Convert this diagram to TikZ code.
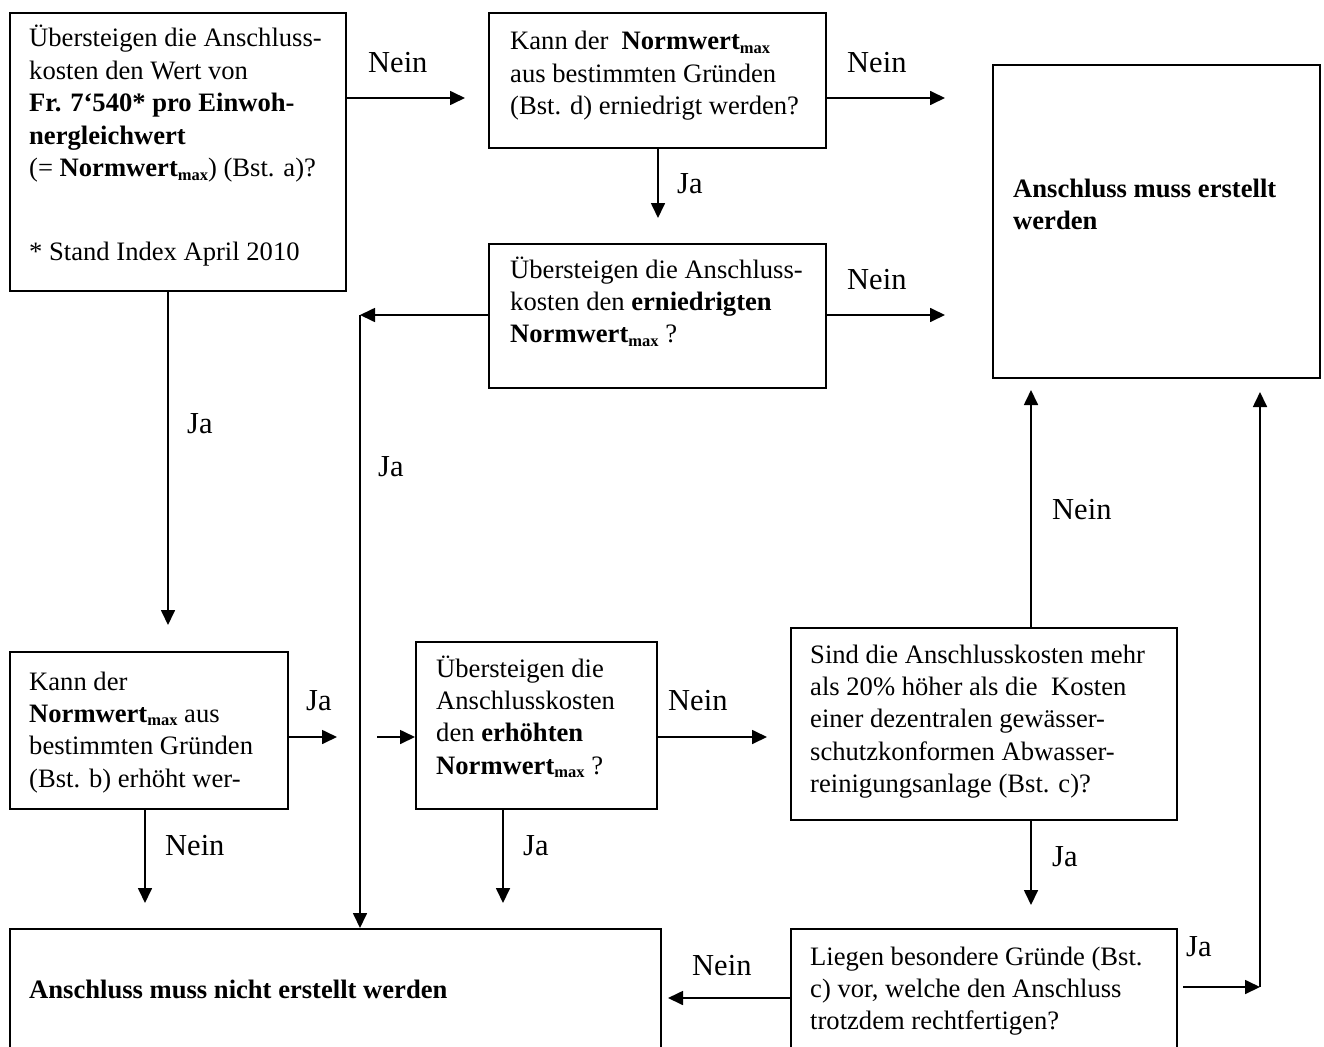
\documentclass[tikz,border=0pt]{standalone}
\usepackage{fontspec}
\setmainfont{Liberation Serif}
\usetikzlibrary{arrows.meta}
\newcommand{\nwmax}{\textbf{Normwert}\raisebox{-3.5pt}{\fontsize{16.5}{17}\selectfont\bfseries max}}
\newcommand{\mlines}[1]{\vtop{\halign{##\hfil\cr#1\crcr}}}
\begin{document}
\begin{tikzpicture}[x=1pt,y=-1pt,
  font=\fontsize{26.6}{32.4}\selectfont,
  box/.style={draw, line width=1.9pt, inner sep=0pt, anchor=north west},
  txt/.style={inner sep=0pt, anchor=base west},
  lbl/.style={inner sep=0pt, anchor=base west, font=\fontsize{30.5}{34}\selectfont},
  arr/.style={line width=1.7pt, -{Triangle[length=15pt,width=14pt]}}]
\useasboundingbox (0,0) rectangle (1324,1046);
\clip (0,0) rectangle (1324,1046);
% boxes
\node[box, minimum width=336pt, minimum height=278pt] (A) at (9,12) {};
\node[box, minimum width=337pt, minimum height=135pt] (B) at (488,12) {};
\node[box, minimum width=337pt, minimum height=144pt] (C) at (488,243) {};
\node[box, minimum width=327pt, minimum height=313pt] (D) at (992,64) {};
\node[box, minimum width=278pt, minimum height=157pt] (E) at (9,651) {};
\node[box, minimum width=241pt, minimum height=167pt] (G) at (415,641) {};
\node[box, minimum width=386pt, minimum height=192pt] (H) at (790,627) {};
\node[box, minimum width=386pt, minimum height=160pt] (I) at (790,928) {};
\node[box, minimum width=651pt, minimum height=160pt] (F) at (9,928) {};
% texts
\node[txt] (tA) at (29,47) {\mlines{Übersteigen die Anschluss-\cr kosten den Wert von\cr \textbf{Fr. 7‘540* pro Einwoh-}\cr \textbf{nergleichwert}\cr (= \nwmax) (Bst. a)?}};
\node[txt] (tA2) at (29,260) {* Stand Index April 2010};
\node[txt] (tB) at (510,50) {\mlines{Kann der\ \ \nwmax\cr aus bestimmten Gründen\cr (Bst. d) erniedrigt werden?}};
\node[txt] (tC) at (510,278) {\mlines{Übersteigen die Anschluss-\cr kosten den \textbf{erniedrigten}\cr \nwmax\ ?}};
\node[txt] (tD) at (1013,197) {\mlines{\textbf{Anschluss muss erstellt}\cr \textbf{werden}}};
\node[txt] (tE) at (29,690) {\mlines{Kann der\cr \nwmax{} aus\cr bestimmten Gründen\cr (Bst. b) erhöht wer-}};
\node[txt] (tG) at (436,677) {\mlines{Übersteigen die\cr Anschlusskosten\cr den \textbf{erhöhten}\cr \nwmax\ ?}};
\node[txt] (tH) at (810,663) {\mlines{Sind die Anschlusskosten mehr\cr als 20\% höher als die\ \ Kosten\cr einer dezentralen gewässer-\cr schutzkonformen Abwasser-\cr reinigungsanlage (Bst. c)?}};
\node[txt] (tI) at (810,965) {\mlines{Liegen besondere Gründe (Bst.\cr c) vor, welche den Anschluss\cr trotzdem rechtfertigen?}};
\node[txt] (tF) at (29,998) {\textbf{Anschluss muss nicht erstellt werden}};
% connector ends
\coordinate (tAB) at (465,98);
\coordinate (tBD) at (945,98);
\coordinate (tBC) at (658,218);
\coordinate (tCD) at (945,315);
\coordinate (kC) at (360,315);
\coordinate (tAE) at (168,625);
\coordinate (tEr) at (337,737);
\coordinate (sG) at (377,737);
\coordinate (tEF) at (145,903);
\coordinate (tGH) at (767,737);
\coordinate (tGF) at (503,903);
\coordinate (tHD) at (1031,390);
\coordinate (tHI) at (1031,905);
\coordinate (tIF) at (668,998);
\coordinate (sIJ) at (1183,987);
\coordinate (kJ) at (1260,987);
\coordinate (tJ) at (1260,392);
% connectors
\draw[arr] (A.east |- tAB) -- (tAB);
\draw[arr] (B.east |- tBD) -- (tBD);
\draw[arr] (B.south -| tBC) -- (tBC);
\draw[arr] (C.east |- tCD) -- (tCD);
\draw[arr] (C.west |- kC) -- (kC);
\draw[arr] (kC) -- (F.north -| kC);
\draw[arr] (A.south -| tAE) -- (tAE);
\draw[arr] (E.east |- tEr) -- (tEr);
\draw[arr] (sG) -- (G.west |- sG);
\draw[arr] (E.south -| tEF) -- (tEF);
\draw[arr] (G.east |- tGH) -- (tGH);
\draw[arr] (G.south -| tGF) -- (tGF);
\draw[arr] (H.north -| tHD) -- (tHD);
\draw[arr] (H.south -| tHI) -- (tHI);
\draw[arr] (I.west |- tIF) -- (tIF);
\draw[arr] (sIJ) -- (kJ);
\draw[arr] (kJ) -- (tJ);
% labels
\node[lbl] (l1) at (368,73) {Nein};
\node[lbl] (l2) at (847,73) {Nein};
\node[lbl] (l3) at (677,193) {Ja};
\node[lbl] (l4) at (847,289) {Nein};
\node[lbl] (l5) at (378,476) {Ja};
\node[lbl] (l6) at (187,433) {Ja};
\node[lbl] (l7) at (306,710) {Ja};
\node[lbl] (l8) at (668,710) {Nein};
\node[lbl] (l9) at (165,855) {Nein};
\node[lbl] (l10) at (523,855) {Ja};
\node[lbl] (l11) at (1052,519) {Nein};
\node[lbl] (l12) at (1052,866) {Ja};
\node[lbl] (l13) at (692,975) {Nein};
\node[lbl] (l14) at (1186,956) {Ja};
\end{tikzpicture}
\end{document}
